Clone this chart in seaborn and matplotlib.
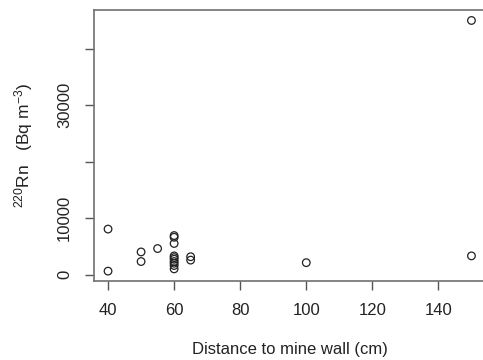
import pandas as pd
import matplotlib
matplotlib.use("Agg")
import matplotlib.pyplot as plt
import seaborn as sns

# Data
distance_cm = [40, 40, 50, 50, 55, 60, 60, 60, 60, 60, 60, 60, 60, 60, 60, 65, 65, 100, 150, 150]
rn220_bq_m3 = [8050, 600, 4000, 2300, 4600, 6900, 6600, 5500, 3300, 3000, 2700, 2300,
               2000, 1600, 1000, 3150, 2550, 2100, 3300, 45000]
x_ticks = [40, 60, 80, 100, 120, 140]
y_ticks = [0, 10000, 20000, 30000, 40000]
y_tick_labels = ["0", "10000", "", "30000", ""]

df = pd.DataFrame({"Distance": distance_cm, "Rn220": rn220_bq_m3})

sns.set_theme(style="white")
plt.rcParams["font.family"] = ["Liberation Sans", "DejaVu Sans"]
plt.rcParams["mathtext.fontset"] = "custom"
plt.rcParams["mathtext.rm"] = "Liberation Sans"
plt.rcParams["mathtext.it"] = "Liberation Sans"

fig = plt.figure(figsize=(4.83, 3.6), dpi=100)
# axes extends past the right edge, as in the cropped reference
ax = fig.add_axes([0.1936, 0.219, 0.8126, 0.752])

sns.scatterplot(x="Distance", y="Rn220", data=df, ax=ax, s=30,
                facecolor="none", edgecolor="#222222", linewidth=0.9, marker="o")

# R-style 4% padding around the data range
xr = max(distance_cm) - min(distance_cm)
yr = max(rn220_bq_m3) - min(rn220_bq_m3)
ax.set_xlim(min(distance_cm) - 0.04 * xr, max(distance_cm) + 0.04 * xr)
ax.set_ylim(min(rn220_bq_m3) - 0.04 * yr, max(rn220_bq_m3) + 0.04 * yr)

ax.set_xticks(x_ticks)
ax.set_yticks(y_ticks)
ax.set_yticklabels(y_tick_labels, rotation=90, va="center")

for s in ax.spines.values():
    s.set_color("#707070")
    s.set_linewidth(1.2)

ax.tick_params(axis="both", direction="out", length=6.5, width=1.0, color="#555555",
               labelsize=12, labelcolor="#222222", pad=9, bottom=True, left=True)

ax.set_xlabel("Distance to mine wall (cm)", fontsize=12, color="#222222", va="top")
ax.set_ylabel(r"$^{220}$Rn   (Bq m$^{-3}$)", fontsize=12.5, color="#222222")
ax.xaxis.set_label_coords((290 - 93.5) / (486 - 93.5), -(342 - 281) / 270.5)
ax.yaxis.set_label_coords(-(93.5 - 35) / 392.5, 0.5)

fig.savefig("out.png", dpi=100)
